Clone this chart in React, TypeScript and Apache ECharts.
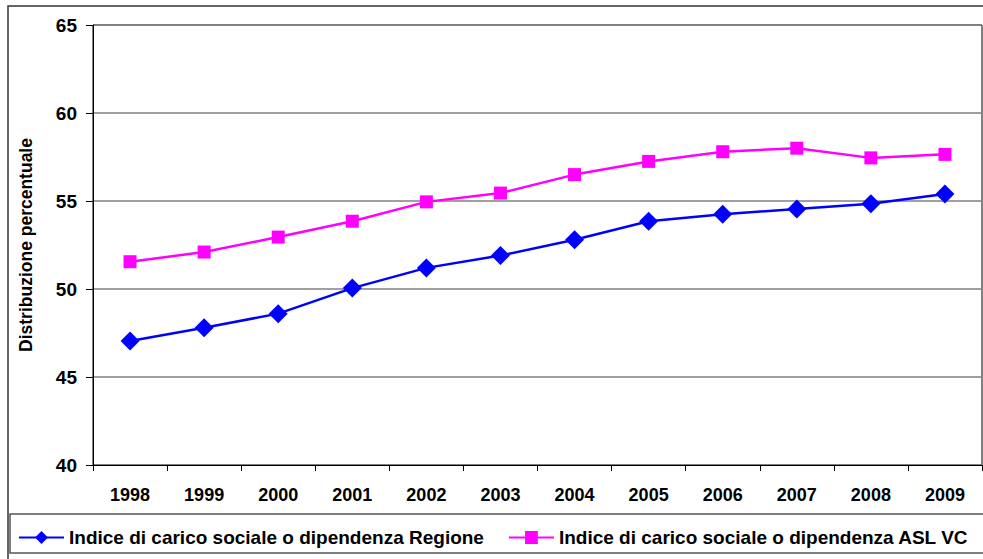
import React, { useEffect, useRef } from "react";
import * as echarts from "echarts";

const years = ["1998", "1999", "2000", "2001", "2002", "2003", "2004", "2005", "2006", "2007", "2008", "2009"];
const regione = [47.05, 47.8, 48.6, 50.05, 51.2, 51.9, 52.8, 53.85, 54.25, 54.55, 54.85, 55.4];
const aslVc = [51.55, 52.1, 52.95, 53.85, 54.95, 55.45, 56.5, 57.25, 57.8, 58.0, 57.45, 57.65];
const seriesNames = [
  "Indice di carico sociale o dipendenza Regione",
  "Indice di carico sociale o dipendenza ASL VC",
];
const yAxisTitle = "Distribuzione percentuale";

const FONT = "'Liberation Sans', Arial, sans-serif";

export default function App() {
  const ref = useRef<HTMLDivElement>(null);
  useEffect(() => {
    if (!ref.current) return;
    const chart = echarts.init(ref.current, null, { renderer: "svg" });
    chart.setOption({
      animation: false,
      backgroundColor: "#fff",
      graphic: [
        {
          type: "rect",
          shape: { x: 8, y: 6, width: 1000, height: 600 },
          style: { fill: "none", stroke: "#333", lineWidth: 1.5 },
          z: -1,
        },
        {
          type: "rect",
          shape: { x: 10, y: 514, width: 1000, height: 39 },
          style: { fill: "none", stroke: "#555", lineWidth: 1.5 },
          z: -1,
        },
      ],
      grid: { left: 93, right: 1, top: 25, bottom: 94, show: true, borderColor: "#000", borderWidth: 1 },
      legend: {
        data: seriesNames,
        orient: "horizontal",
        left: 13,
        top: 523,
        width: 1400,
        itemWidth: 45,
        itemHeight: 16,
        itemGap: 24,
        textStyle: { fontFamily: FONT, fontWeight: "bold", fontSize: 19, color: "#000" },
      },
      xAxis: {
        type: "category",
        data: years,
        boundaryGap: true,
        axisLine: { lineStyle: { color: "#000", width: 1 } },
        axisTick: { show: true, length: 6, lineStyle: { color: "#000" } },
        axisLabel: { fontFamily: FONT, fontWeight: "bold", fontSize: 18, color: "#000", margin: 21 },
      },
      yAxis: {
        type: "value",
        min: 40,
        max: 65,
        interval: 5,
        name: yAxisTitle,
        nameLocation: "middle",
        nameRotate: 90,
        nameGap: 58,
        nameTextStyle: { fontFamily: FONT, fontWeight: "bold", fontSize: 17.5, color: "#000" },
        axisLine: { show: true, lineStyle: { color: "#000", width: 1 } },
        axisTick: { show: true, length: 7, lineStyle: { color: "#000" } },
        axisLabel: { fontFamily: FONT, fontWeight: "bold", fontSize: 19, color: "#000", margin: 16 },
        splitLine: { show: true, lineStyle: { color: "#808080", width: 1.5 } },
      },
      series: [
        {
          name: seriesNames[0],
          type: "line",
          data: regione,
          symbol: "diamond",
          symbolSize: 19,
          lineStyle: { color: "#0000FF", width: 2.5 },
          itemStyle: { color: "#0000FF" },
        },
        {
          name: seriesNames[1],
          type: "line",
          data: aslVc,
          symbol: "rect",
          symbolSize: 13,
          lineStyle: { color: "#FF00FF", width: 2.5 },
          itemStyle: { color: "#FF00FF" },
        },
      ],
    });
    return () => chart.dispose();
  }, []);
  return (
    <div
      ref={ref}
      style={{ position: "absolute", left: 0, top: 0, width: 983, height: 559, overflow: "hidden" }}
    />
  );
}
